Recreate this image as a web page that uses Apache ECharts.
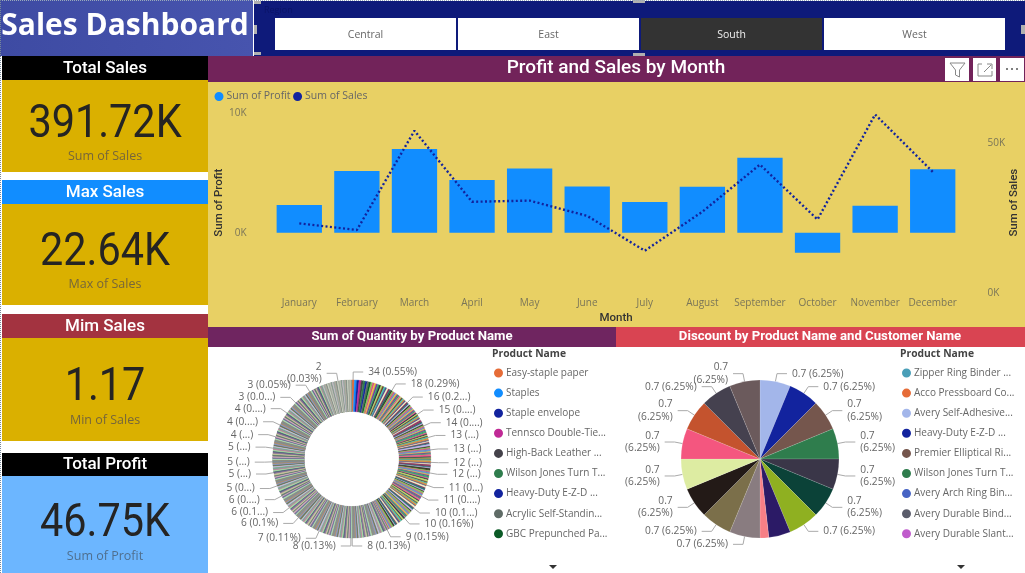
<!DOCTYPE html>
<html><head><meta charset="utf-8">
<style>html,body{margin:0;padding:0;background:#fff}#c{width:1025px;height:573px}</style>
<script src="https://cdn.jsdelivr.net/npm/echarts@6/dist/echarts.min.js"></script>
</head><body><div id="c"></div>
<script>
// ---- values ----
const months = ['January','February','March','April','May','June','July','August','September','October','November','December'];
const sumOfProfit = [2300,5140,6970,4390,5360,3860,2560,3830,6250,-1670,2250,5280];
const sumOfSales = [23100,20900,54000,30300,30700,25600,14000,27000,42700,24400,59400,40300];
const regions = ['Central','East','South','West'];

// Quantity by product: sorted levels and how many products sit at each level (estimated from label angles)
const quantityLevels = [34,30,28,26,24,22,21,20,19,18,17,16,15,14,13,12,11,10,9,8,7,6,5,4,3,2,1];
const productsPerLevel = [1,1,2,2,3,4,3,4,2,7,7,12,11,11,24,24,30,43,35,70,44,80,124,124,150,100,122];
const quantityLegend = ['Easy-staple paper','Staples','Staple envelope','Tennsco Double-Tie...','High-Back Leather ...','Wilson Jones Turn T...','Heavy-Duty E-Z-D ...','Acrylic Self-Standin...','GBC Prepunched Pa...'];
const quantityLabelRanks = [0,22,36,48,59,70,82,94,105,118,132,148,165,191,243,245,296,340,368,397,420,454,481,515,544,583,626,668,742,893];
const quantityLabels = ['34 (0.55%)','18 (0.29%)','16 (0.2...)','15 (0....)','14 (0....)','13 (...)','13 (...)','12 (...)','12 (...)','11 (0...)','11 (0....)','10 (0.1...)','10 (0.16%)','9 (0.15%)','8 (0.13%)','8 (0.13%)','7 (0.11%)','6 (0.1%)','6 (0.1...)','6 (0....)','5 (0...)','5 (...)','5 (...)','5 (...)','4 (...)','4 (0....)','4 (0....)','3 (0.0...)','3 (0.05%)','2\n(0.03%)'];

// Discount by product
const discountNames = ['Avery Self-Adhesive...','Heavy-Duty E-Z-D ...','Premier Elliptical Ri...','Wilson Jones Turn T...','Slice 5','Slice 6','Slice 7','Slice 8','Slice 9','Slice 10','Slice 11','Slice 12','Slice 13','Slice 14','Acco Pressboard Co...','Slice 16','Slice 17'];
const discountValues = [0.7,0.7,0.7,0.7,0.7,0.7,0.7,0.5,0.2,0.7,0.7,0.7,0.7,0.7,0.7,0.7,0.7];
const discountLabels = ['0.7 (6.25%)','0.7 (6.25%)','0.7\n(6.25%)','0.7\n(6.25%)','0.7\n(6.25%)','0.7\n(6.25%)','0.7 (6.25%)','','','0.7 (6.25%)','0.7 (6.25%)','0.7\n(6.25%)','0.7\n(6.25%)','0.7\n(6.25%)','0.7\n(6.25%)','0.7 (6.25%)','0.7\n(6.25%)'];
const discountColors = ['#a3b6ea','#12239e','#75564d','#2f7d4d','#3a3648','#0b4238','#8fb021','#2b1a66','#f77f86','#897c80','#7b6f4a','#231a17','#ddeca2','#f4567f','#c4532e','#45414f','#6b5a5c'];
const discountLegend = ['Zipper Ring Binder ...','Acco Pressboard Co...','Avery Self-Adhesive...','Heavy-Duty E-Z-D ...','Premier Elliptical Ri...','Wilson Jones Turn T...','Avery Arch Ring Bin...','Avery Durable Bind...','Avery Durable Slant...'];
const discountLegendColors = ['#4a9fb8','#e66c37','#a3b6ea','#12239e','#75564d','#2f7d4d','#4764c4','#5b5d6b','#c05ccc'];
const legendOnlyNames = ['Zipper Ring Binder ...','Avery Arch Ring Bin...','Avery Durable Bind...','Avery Durable Slant...'];
const legendOnlyColors = ['#4a9fb8','#4764c4','#5b5d6b','#c05ccc'];

// ---- palettes (style) ----
const legendColors = ['#e66c37','#118dff','#12239e','#c02a96','#44424a','#2f7d4d','#12239e','#5f6b66','#0b5a26'];
const vivid = ['#e6c13a','#7a3d9c','#2fa36b','#ea5d8a','#20303c','#b8d86b','#6a3d2c','#3fc6b4','#d28a3c','#4a4a8c','#f2f2c0','#8a2f5c','#1d6f6a','#c0b0e8','#33331f','#86c25a','#d8547c','#5a8fc8'];
const muted = ['#8c8c7a','#a8d8b0','#6d6a94','#d2a8b8','#5f7a70','#c4c49a','#8a6f98','#4f6478','#a6dca0','#b5849c','#74a890','#c4b8d8','#68744f','#8896c4','#a98a6c','#7c8c94'];
const pale = ['#a4ac9e','#bcbcb2','#8c9c92','#c2bac2','#9aaaa2','#b0a8a0','#88948c','#c8ccc0'];

// ---- build series data ----
const quantityData = [];
quantityLevels.forEach((v, i) => { for (let k = 0; k < productsPerLevel[i]; k++) quantityData.push(v); });
const labelByRank = {};
quantityLabelRanks.forEach((r, i) => labelByRank[r] = quantityLabels[i]);
let cumulative = 0;
const donut = quantityData.map((v, i) => {
  const stripe = Math.floor(cumulative / 16);
  cumulative += v;
  const palette = i < 190 ? vivid : (i < 800 ? muted : pale);
  const color = i < 9 ? legendColors[i] : palette[stripe % palette.length];
  const item = { name: i < 9 ? quantityLegend[i] : 'p' + i, value: v, itemStyle: { color, borderColor: color, borderWidth: 0.4 } };
  if (labelByRank[i]) { item.label = { show: true, formatter: labelByRank[i] }; item.labelLine = { show: true }; }
  return item;
});
const pie = discountValues.map((v, i) => {
  const item = { name: discountNames[i], value: v, itemStyle: { color: discountColors[i] } };
  if (discountLabels[i]) { item.label = { show: true, formatter: discountLabels[i] }; item.labelLine = { show: true }; }
  return item;
});
legendOnlyNames.forEach((n, i) => pie.push({ name: n, value: 0, itemStyle: { color: legendOnlyColors[i], borderWidth: 0 } }));

// ---- page furniture ----
const UI = '"Open Sans","Noto Sans",sans-serif';
const DIN = 'Roboto,"Noto Sans",sans-serif';
const rect = (x, y, w, h, fill) => ({ type: 'rect', shape: { x, y, width: w, height: h }, style: { fill }, silent: true });
const text = (x, y, t, font, fill, align) => ({ type: 'text', x, y, style: { text: t, font, fill, align: align || 'center', verticalAlign: 'middle' }, silent: true, z: 5 });
const wideText = (x, y, t, font, fill, sx) => ({ type: 'text', x, y, scaleX: sx, style: { text: t, font, fill, align: 'center', verticalAlign: 'middle' }, silent: true, z: 5 });

const g = [];
g.push({ type: 'rect', shape: { x: 0, y: 0, width: 253, height: 56 }, style: { fill: new echarts.graphic.LinearGradient(0, 0, 1, 0, [{ offset: 0, color: '#3e4ba3' }, { offset: 1, color: '#4754ae' }]) }, silent: true });
g.push(text(125, 26, 'Sales Dashboard', 'bold 30px ' + UI, '#fff'));
g.push(rect(254, 1, 771, 55, '#0e1a7a'));
g.push(text(264, 10, 'Region', '9px ' + UI, '#0a1468', 'left'));
const btnX = [275, 458, 641, 824], btnW = 181;
regions.forEach((r, i) => {
  const sel = r === 'South';
  g.push(rect(btnX[i], 18, btnW, 32, sel ? '#333333' : '#ffffff'));
  g.push(text(btnX[i] + btnW / 2, 35, r, '10.5px ' + UI, sel ? '#f0f0f0' : '#666', 'center'));
});
[[254, 1, 7, 3], [254, 25, 3, 9], [254, 52, 7, 3], [633, 0, 12, 3], [633, 53, 12, 3], [1021, 25, 4, 9]].forEach(a => g.push(rect(a[0], a[1], a[2], a[3], '#b0b0b0')));
g.push({ type: 'line', shape: { x1: 0, y1: 0.5, x2: 1025, y2: 0.5 }, style: { stroke: '#9ab', lineDash: [1, 1] }, silent: true, z: 6 });
g.push({ type: 'line', shape: { x1: 0.5, y1: 0, x2: 0.5, y2: 573 }, style: { stroke: '#789', lineDash: [1, 1] }, silent: true, z: 6 });

const kpi = [
  { head: 'Total Sales', hc: '#000000', y: 56, hh: 24, bc: '#dab000', bh: 92, val: '391.72K', sub: 'Sum of Sales', vy: 125, sy: 156, sc: '#76663a' },
  { head: 'Max Sales', hc: '#118dff', y: 180, hh: 24, bc: '#dab000', bh: 101, val: '22.64K', sub: 'Max of Sales', vy: 253, sy: 284, sc: '#76663a' },
  { head: 'Mim Sales', hc: '#a33340', y: 314, hh: 24, bc: '#dab000', bh: 103, val: '1.17', sub: 'Min of Sales', vy: 388, sy: 420, sc: '#76663a' },
  { head: 'Total Profit', hc: '#000000', y: 453, hh: 23, bc: '#6cb6ff', bh: 97, val: '46.75K', sub: 'Sum of Profit', vy: 524, sy: 556, sc: '#4f6f8f' }
];
kpi.forEach(k => {
  g.push(rect(2, k.y, 206, k.hh, k.hc));
  g.push(text(105, k.y + k.hh / 2 + 0.5, k.head, '500 17px ' + DIN, '#fff'));
  g.push(rect(2, k.y + k.hh, 206, k.bh, k.bc));
  g.push(wideText(105, k.vy, k.val, '46px ' + DIN, '#252423', 0.9));
  g.push(text(105, k.sy, k.sub, '12.5px ' + UI, k.sc));
});

g.push(rect(208, 56, 817, 26, '#72235a'));
g.push(text(616, 68.5, 'Profit and Sales by Month', '500 19px ' + DIN, '#fff'));
g.push(rect(208, 82, 817, 245, '#e8d064'));
[[945, 24], [973, 23], [1000, 24]].forEach(a => g.push(rect(a[0], 58, a[1], 23, '#ffffff')));
g.push({ type: 'polygon', shape: { points: [[950, 63], [965, 63], [959.5, 70], [959.5, 77], [955.5, 75], [955.5, 70]] }, style: { fill: 'none', stroke: '#888' }, silent: true, z: 6 });
g.push({ type: 'polyline', shape: { points: [[982, 64], [978, 64], [978, 76], [992, 76], [992, 71]] }, style: { fill: 'none', stroke: '#888' }, silent: true, z: 6 });
g.push({ type: 'line', shape: { x1: 984, y1: 72, x2: 991, y2: 65 }, style: { stroke: '#888' }, silent: true, z: 6 });
g.push({ type: 'polyline', shape: { points: [[987, 64], [992, 64], [992, 69]] }, style: { fill: 'none', stroke: '#888' }, silent: true, z: 6 });
[1007, 1012, 1017].forEach(x => g.push({ type: 'circle', shape: { cx: x, cy: 69, r: 1 }, style: { fill: '#555' }, silent: true, z: 6 }));

g.push(rect(208, 327, 408, 20, '#6f2560'));
g.push(rect(616, 327, 409, 20, '#d94452'));
g.push(text(412, 337, 'Sum of Quantity by Product Name', 'bold 13.2px ' + DIN, '#fff'));
g.push(text(820, 337, 'Discount by Product Name and Customer Name', 'bold 13.2px ' + DIN, '#fff'));
g.push(text(492, 354.5, 'Product Name', 'bold 10.3px ' + UI, '#444', 'left'));
g.push(text(900, 354.5, 'Product Name', 'bold 10.3px ' + UI, '#444', 'left'));
g.push({ type: 'polygon', shape: { points: [[549, 565], [557, 565], [553, 569]] }, style: { fill: '#333' }, silent: true });
g.push({ type: 'polygon', shape: { points: [[957, 565], [965, 565], [961, 569]] }, style: { fill: '#333' }, silent: true });

const labelStyle = { fontFamily: UI, fontSize: 10.2, color: '#666', lineHeight: 12.5 };
const legendIcon = { icon: 'circle', itemWidth: 5, itemHeight: 5, selectedMode: false, padding: 0 };
const legendEntry = (name, color) => ({ name, itemStyle: { color, borderColor: color, borderWidth: 4 } });
const axisName = { fontFamily: DIN, fontSize: 11.5, fontWeight: 500, color: '#333' };
const option = {
  animation: false,
  backgroundColor: '#ffffff',
  graphic: { elements: g },
  legend: [
    Object.assign({ left: 214.5, top: 91, data: [legendEntry('Sum of Profit', '#118dff'), legendEntry('Sum of Sales', '#12239e')], itemGap: 2.5, textStyle: { fontFamily: UI, fontSize: 10.5, color: '#666' } }, legendIcon),
    Object.assign({ left: 494, top: 366.5, orient: 'vertical', data: quantityLegend.map((n, i) => legendEntry(n, legendColors[i])), itemGap: 7.1, textStyle: { fontFamily: UI, fontSize: 10, color: '#666', lineHeight: 13 } }, legendIcon),
    Object.assign({ left: 902, top: 366.5, orient: 'vertical', data: discountLegend.map((n, i) => legendEntry(n, discountLegendColors[i])), itemGap: 7.1, textStyle: { fontFamily: UI, fontSize: 10, color: '#666', lineHeight: 13 } }, legendIcon)
  ],
  grid: { left: 270.5, right: 63.5, top: 112.7, bottom: 280.3, outerBoundsMode: 'none' },
  xAxis: { type: 'category', data: months, axisLine: { show: false, onZero: false }, axisTick: { show: false },
    axisLabel: { fontFamily: UI, fontSize: 10, color: '#7a7558', margin: 5, interval: 0 },
    name: 'Month', nameLocation: 'middle', nameGap: 19, nameMoveOverlap: false, nameTextStyle: axisName },
  yAxis: [
    { type: 'value', min: -5000, max: 10000, interval: 5000, splitLine: { show: false }, axisLine: { show: false }, axisTick: { show: false },
      axisLabel: { fontFamily: UI, fontSize: 10, color: '#7a7558', margin: 24, formatter: v => v === 0 ? '0K' : (v === 10000 ? '10K' : '') },
      name: 'Sum of Profit', nameLocation: 'middle', nameGap: 45, nameMoveOverlap: false, nameTextStyle: axisName },
    { type: 'value', min: 0, max: 60000, interval: 10000, splitLine: { show: false }, axisLine: { show: false }, axisTick: { show: false },
      axisLabel: { fontFamily: UI, fontSize: 10, color: '#7a7558', margin: 26, formatter: v => v === 0 ? '0K' : (v === 50000 ? '50K' : '') },
      name: 'Sum of Sales', nameLocation: 'middle', nameGap: 47, nameMoveOverlap: false, nameTextStyle: axisName }
  ],
  series: [
    { name: 'Sum of Profit', type: 'bar', data: sumOfProfit, barWidth: '78.7%', itemStyle: { color: '#118dff' }, silent: true },
    { name: 'Sum of Sales', type: 'line', yAxisIndex: 1, data: sumOfSales, symbol: 'none', itemStyle: { color: '#12239e' }, lineStyle: { color: '#12239e', width: 2.4, type: [2, 2.4] }, silent: true, z: 4 },
    { type: 'pie', name: 'qty', silent: true, center: [351.7, 459], radius: [47.5, 79], startAngle: 90, clockwise: true, data: donut,
      label: Object.assign({ show: false, position: 'outside' }, labelStyle), labelLayout: { hideOverlap: false },
      labelLine: { show: false, length: 8, length2: 10, lineStyle: { color: '#aaa', width: 1 } }, avoidLabelOverlap: false },
    { type: 'pie', name: 'disc', silent: true, center: [760, 459], radius: [0, 79], startAngle: 90, clockwise: true, data: pie,
      itemStyle: { borderColor: 'rgba(255,255,255,0.25)', borderWidth: 0.5 },
      label: Object.assign({ show: false, position: 'outside' }, labelStyle), labelLayout: { hideOverlap: false },
      labelLine: { show: false, length: 8, length2: 10, lineStyle: { color: '#aaa', width: 1 } }, avoidLabelOverlap: false }
  ]
};
const chart = echarts.init(document.getElementById('c'), null, { renderer: 'canvas', width: 1025, height: 573 });
chart.setOption(option);
</script></body></html>
